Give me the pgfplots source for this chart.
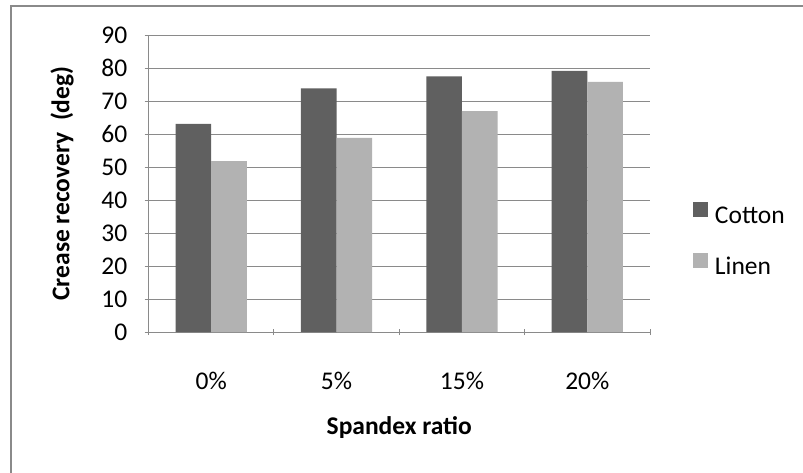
\documentclass[border=0pt]{standalone}
\usepackage{fontspec}
\setmainfont{Carlito}
\usepackage{pgfplots}
\pgfplotsset{compat=1.18}
\definecolor{cottonc}{HTML}{606060}
\definecolor{linenc}{HTML}{B2B2B2}
\definecolor{gridc}{HTML}{8A8A8A}
\begin{document}
\begin{tikzpicture}[x=1bp,y=1bp]
\useasboundingbox (0,0) rectangle (803,-473);
\fill[white] (0,0) rectangle (803,-473);
% chart area frame
\draw[gridc, line width=2bp] (11,-473) -- (11,-6) -- (803,-6);
\begin{axis}[
  at={(148.5bp,-332bp)}, anchor=south west,
  scale only axis, width=501.5bp, height=297bp,
  xmin=-0.5, xmax=3.5, ymin=0, ymax=90,
  ybar=0pt, bar width=35.6bp,
  ytick={0,10,...,90},
  ymajorgrids, grid style={gridc, line width=1bp},
  xtick={0,1,2,3}, xticklabels={0\%,5\%,15\%,20\%},
  minor xtick={-0.5,0.5,1.5,2.5,3.5},
  major x tick style={draw=none},
  minor tick length=6bp, major tick length=8bp,
  tick align=outside,
  axis x line=bottom, axis y line=left,
  axis line style={-, gridc, line width=1bp},
  tick style={gridc, line width=1bp},
  font=\fontsize{25.5bp}{30bp}\selectfont,
  /pgf/number format/assume math mode=true,
  xticklabel style={anchor=center, yshift=-45bp},
  yticklabel style={anchor=east, inner sep=0pt, xshift=-17bp},
  every axis y label/.style={at={(axis description cs:-0.1725,0.5)}, rotate=90, anchor=center, font=\fontsize{25.5bp}{30bp}\selectfont\bfseries},
  every axis x label/.style={at={(axis description cs:0.5,-0.3232)}, anchor=center, font=\fontsize{25.5bp}{30bp}\selectfont\bfseries},
  ylabel={Crease recovery~ (deg)},
  xlabel={Spandex ratio},
  legend style={at={(axis description cs:1.0857,0.305)}, anchor=west, draw=none, fill=none, inner sep=0pt, outer sep=0pt,
    row sep=24bp, column sep=7bp,
    nodes={inner sep=0pt, text height=18bp, text depth=6bp, font=\fontsize{25.5bp}{30bp}\selectfont}},
  legend cell align=left,
  legend image code/.code={\fill[#1] (0bp,0bp) rectangle (15bp,15bp);},
]
\addplot[fill=cottonc, draw=none] coordinates {(0,63.1) (1,73.8) (2,77.5) (3,79.1)};
\addplot[fill=linenc, draw=none] coordinates {(0,51.8) (1,58.8) (2,66.9) (3,75.8)};
\legend{Cotton, Linen}
\end{axis}
\end{tikzpicture}
\end{document}
